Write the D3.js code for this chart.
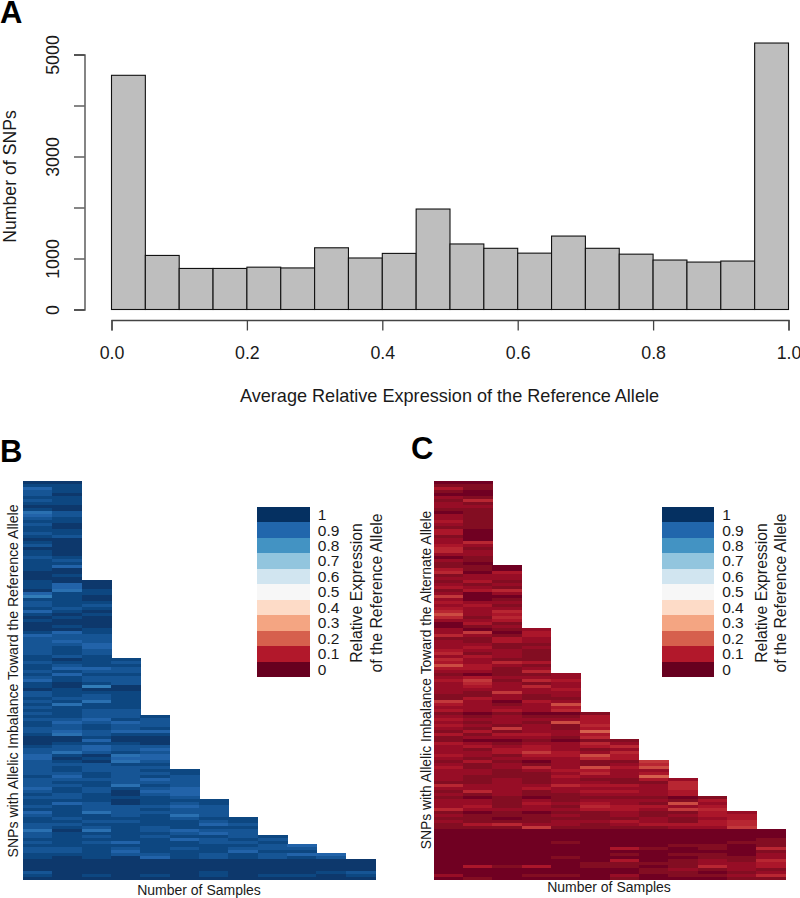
<!DOCTYPE html>
<html><head><meta charset="utf-8">
<script src="https://cdnjs.cloudflare.com/ajax/libs/d3/7.8.5/d3.min.js"></script>
<style>html,body{margin:0;padding:0;background:#fff}svg{display:block}text{font-family:"Liberation Sans",Arial,sans-serif;fill:#1a1a1a}</style>
</head><body>
<svg id="c" width="800" height="898">
<defs><filter id="soft" x="-2%" y="-2%" width="104%" height="104%"><feGaussianBlur stdDeviation="0.25 0.7"/></filter></defs>
</svg>
<script>
// Panel A: histogram counts per 0.05 bin
const histCounts=[4592,1060,805,805,830,815,1210,1010,1100,1970,1285,1200,1105,1440,1200,1085,970,930,950,5225];
const histXTicks=[0,0.2,0.4,0.6,0.8,1];
const histYTicks=[0,1000,2000,3000,4000,5000];
const histYLabelled=[0,1000,3000,5000];
// Legend levels
const legendLevels=[1,0.9,0.8,0.7,0.6,0.5,0.4,0.3,0.2,0.1,0];
const legendLabels=["1","0.9","0.8","0.7","0.6","0.5","0.4","0.3","0.2","0.1","0"];
const legendDomain=[0,0.1,0.2,0.3,0.4,0.5,0.6,0.7,0.8,0.9,1];
const legendColors=["#67001f","#b2182b","#d6604d","#f4a582","#fddbc7","#f7f7f7","#d1e5f0","#92c5de","#4393c3","#2166ac","#053061"];
// Panel B: each string is one SNP; each digit is that sample's graded distance from the top of the scale
const rowsB=["00","11","31","21","20","11","21","11","00","10","42","32","21","11","20","10","11","21","12","00","10","20","00","10","10","21","12","11","13","10","00","01","00",
"100","130","130","041","311","510","110","211","212","121","310","101","010","100","000","010","001","131","322","222","232","223","213","212","212","121",
"1011","2112","1211","1332","2122","1311","2122","3122","1012","1050","0100","2111","2121","1221","2141","1411","2111","1122","2122",
"11221","22312","13232","12122","22121","23233","14211","00100","00300","01110","12322","22323","24212","31043","30133","21042","22211","21222",
"212211","221221","131212","222232","211222","221412","312123","212033","121023","221112",
"1110111","1320121","2122232","1122122","3142222","2112142",
"12111211","11221121","22111132","21212111","40412322","21111232",
"212121121","111113212","212311221",
"1111111123","2212121222","2213111311",
"11122121233","10103121212",
"000000000000","000000000000","000000000000","000000000000","200000100012","101010101101","000000000000"];
// Panel C: each digit is that sample's graded distance from the bottom of the scale
const rowsC=["00","11","31","10","00","21","14","21","22","11","01","21","21","31","21","11","30","30","10","20","24","32","41","42","22","01","21","10",
"110","310","403","122","222","131","212","321","134","202","500","201","322","231","322","424","623","414","223","031","012",
"2012","2503","4213","1132","2132","2211","2312","3221","4121","2321","4211","3243","6321","3312","2214",
"10112","23222","35143","24212","23242","22223","21522","11212","13211","52032","32126","22223","32324",
"101001","212113","322223","212163","321214","215213","131227","313323","122214",
"1001011","3212242","2323234","2133212","2235324","3213363","2122243",
"13102115","21212124","31242636","22123322","22112423","21113227",
"212121132","112122114","422243324","222322224","142123323","212112223",
"1010111101","2212122213","2213232162","2312143323","4222233254",
"10101121132","21112121233","11011112123","21112232134","13422123334","11151111225",
"000000000000","000000000000","000000000000","000000000001","000010000011","000000001101","000000310104","000000000001","000000101102","000010000112","000000301214","000001111223","031301101423","000000012121","000000011012","200110201124","010000100011"];
const sampleCount=[1,2,3,4,5,6,7,8,9,10,11,12];

const svg=d3.select("#c");
const txt=(x,y,s,size,opt={})=>{
  const t=svg.append("text").attr("x",x).attr("y",y).attr("font-size",size).attr("text-anchor",opt.anchor||"middle").text(s);
  if(opt.rot)t.attr("transform",`rotate(-90 ${x} ${y})`);
  if(opt.bold)t.attr("font-weight","bold").style("fill","#000");
  return t;
};

// ---------- Panel A
const x=d3.scaleLinear().domain([0,1]).range([111.5,788.5]);
const y=d3.scaleLinear().domain([0,5000]).range([309.5,54.5]);
svg.append("g").selectAll("rect").data(histCounts).join("rect")
  .attr("x",(d,i)=>x(i*0.05)).attr("width",(d,i)=>x((i+1)*0.05)-x(i*0.05))
  .attr("y",d=>y(d)).attr("height",d=>y(0)-y(d))
  .attr("fill","#bebebe").attr("stroke","#111").attr("stroke-width",1.1);
const yAxis=d3.axisLeft(y).tickValues(histYTicks).tickSize(10.5).tickPadding(0)
  .tickFormat(d=>histYLabelled.includes(d)?d:"");
const gy=svg.append("g").attr("transform","translate(84.5,0)").call(yAxis);
gy.selectAll("text").attr("font-size",17.8).attr("text-anchor","middle").attr("x",null).attr("dy",null)
  .attr("transform","translate(-25.5,0) rotate(-90)").style("font-family",'"Liberation Sans"');
const xAxis=d3.axisBottom(x).tickValues(histXTicks).tickSize(10.5).tickPadding(0).tickFormat(d3.format(".1f"));
const gx=svg.append("g").attr("transform","translate(0,320)").call(xAxis);
gx.selectAll("text").attr("font-size",17.8).attr("y",32.7).attr("dy","0.34em").style("font-family",'"Liberation Sans"');
[gy,gx].forEach(g=>{g.selectAll("path,line").attr("stroke","#444").attr("stroke-width",1.3);g.select(".domain").attr("fill","none");});
txt(449.5,402,"Average Relative Expression of the Reference Allele",18.1);
txt(15.5,176.5,"Number of SNPs",17.7,{rot:true});

// ---------- Heatmaps
const color=d3.scaleLinear().domain(legendDomain).range(legendColors).interpolate(d3.interpolateRgb);
function heatmap(rows,left,toValue){
  const xb=d3.scaleBand().domain(sampleCount).range([left,left+352]);
  const yb=d3.scaleBand().domain(d3.range(rows.length)).range([481,880]);
  const cells=rows.flatMap((r,i)=>Array.from(r,(c,j)=>({row:i,col:sampleCount[j],v:toValue(+c)})));
  svg.append("g").attr("filter","url(#soft)").attr("shape-rendering","crispEdges").selectAll("rect").data(cells).join("rect")
    .attr("x",d=>xb(d.col)).attr("y",d=>yb(d.row)).attr("width",xb.bandwidth()+0.6).attr("height",yb.bandwidth())
    .attr("fill",d=>color(d.v));
}
function legend(left){
  const ly=d3.scaleBand().domain(legendLevels).range([506.7,677]);
  svg.append("g").attr("shape-rendering","crispEdges").selectAll("rect").data(legendLevels).join("rect")
    .attr("x",left).attr("width",52.6).attr("y",d=>ly(d)).attr("height",ly.bandwidth()+0.3).attr("fill",d=>color(d));
  svg.append("g").selectAll("text").data(legendLevels).join("text")
    .attr("x",left+60.5).attr("y",d=>ly(d)+ly.bandwidth()/2).attr("dy","0.36em")
    .attr("font-size",15.5).text((d,i)=>legendLabels[i]);
  txt(left+105,593,"Relative Expression",15.8,{rot:true});
  txt(left+124.5,593,"of the Reference Allele",15.8,{rot:true});
}
heatmap(rowsB,23,d=>0.985-d*0.027);
legend(257.3);
txt(18,681,"SNPs with Allelic Imbalance Toward the Reference Allele",14.1,{rot:true});
txt(199,895,"Number of Samples",14);
heatmap(rowsC,433.5,d=>0.01+d*0.027);
legend(661.7);
txt(431,680,"SNPs with Allelic Imbalance Toward the Alternate Allele",13.9,{rot:true});
txt(609,892,"Number of Samples",14);

// ---------- Panel letters
txt(0,23,"A",31,{anchor:"start",bold:true});
txt(0,462,"B",31,{anchor:"start",bold:true});
txt(411,459,"C",31,{anchor:"start",bold:true});
</script>
</body></html>
